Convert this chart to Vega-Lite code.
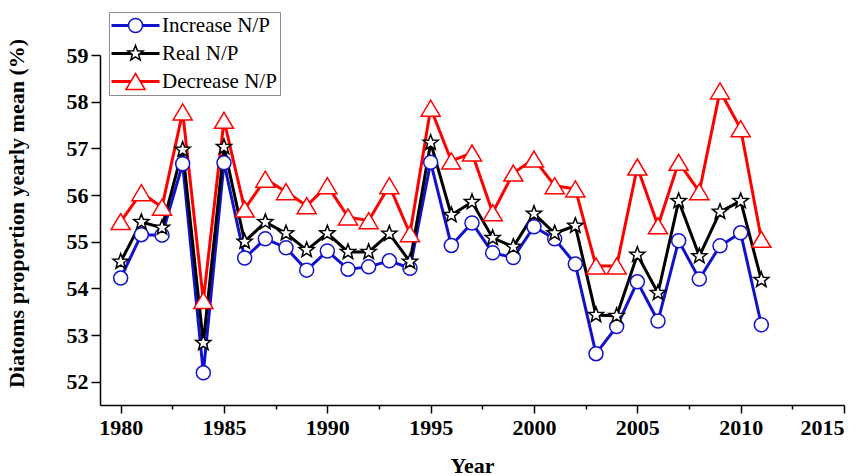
{
  "$schema": "https://vega.github.io/schema/vega-lite/v6.json",
  "width": 744,
  "height": 350,
  "autosize": {"type": "none"},
  "padding": {"left": 100, "top": 55, "right": 24, "bottom": 71},
  "background": "white",
  "config": {
    "view": {"stroke": null},
    "font": "Liberation Serif",
    "axis": {
      "domainColor": "black",
      "domainWidth": 1.5,
      "tickColor": "black",
      "tickWidth": 1.5,
      "grid": false,
      "labelFont": "Liberation Serif",
      "labelFontWeight": "bold",
      "labelFontSize": 22,
      "labelColor": "black",
      "labelOverlap": false,
      "titleFont": "Liberation Serif",
      "titleFontWeight": "bold",
      "titleFontSize": 22,
      "titleColor": "black"
    },
    "legend": {
      "padding": 3,
      "rowPadding": 6,
      "labelFont": "Liberation Serif",
      "labelFontSize": 21,
      "labelFontWeight": "normal",
      "symbolSize": 256,
      "symbolOffset": 13,
      "labelOffset": 16
    }
  },
  "data": {
    "values": [
      {"year": 1980, "series": "Increase N/P", "value": 54.22},
      {"year": 1981, "series": "Increase N/P", "value": 55.15},
      {"year": 1982, "series": "Increase N/P", "value": 55.14},
      {"year": 1983, "series": "Increase N/P", "value": 56.67},
      {"year": 1984, "series": "Increase N/P", "value": 52.19},
      {"year": 1985, "series": "Increase N/P", "value": 56.69},
      {"year": 1986, "series": "Increase N/P", "value": 54.65},
      {"year": 1987, "series": "Increase N/P", "value": 55.06},
      {"year": 1988, "series": "Increase N/P", "value": 54.87},
      {"year": 1989, "series": "Increase N/P", "value": 54.39},
      {"year": 1990, "series": "Increase N/P", "value": 54.8},
      {"year": 1991, "series": "Increase N/P", "value": 54.41},
      {"year": 1992, "series": "Increase N/P", "value": 54.46},
      {"year": 1993, "series": "Increase N/P", "value": 54.59},
      {"year": 1994, "series": "Increase N/P", "value": 54.43},
      {"year": 1995, "series": "Increase N/P", "value": 56.7},
      {"year": 1996, "series": "Increase N/P", "value": 54.92},
      {"year": 1997, "series": "Increase N/P", "value": 55.4},
      {"year": 1998, "series": "Increase N/P", "value": 54.76},
      {"year": 1999, "series": "Increase N/P", "value": 54.66},
      {"year": 2000, "series": "Increase N/P", "value": 55.32},
      {"year": 2001, "series": "Increase N/P", "value": 55.06},
      {"year": 2002, "series": "Increase N/P", "value": 54.52},
      {"year": 2003, "series": "Increase N/P", "value": 52.6},
      {"year": 2004, "series": "Increase N/P", "value": 53.18},
      {"year": 2005, "series": "Increase N/P", "value": 54.14},
      {"year": 2006, "series": "Increase N/P", "value": 53.3},
      {"year": 2007, "series": "Increase N/P", "value": 55.02},
      {"year": 2008, "series": "Increase N/P", "value": 54.2},
      {"year": 2009, "series": "Increase N/P", "value": 54.91},
      {"year": 2010, "series": "Increase N/P", "value": 55.19},
      {"year": 2011, "series": "Increase N/P", "value": 53.22},
      {"year": 1980, "series": "Real N/P", "value": 54.57},
      {"year": 1981, "series": "Real N/P", "value": 55.42},
      {"year": 1982, "series": "Real N/P", "value": 55.3},
      {"year": 1983, "series": "Real N/P", "value": 56.97},
      {"year": 1984, "series": "Real N/P", "value": 52.83},
      {"year": 1985, "series": "Real N/P", "value": 57.03},
      {"year": 1986, "series": "Real N/P", "value": 55.0},
      {"year": 1987, "series": "Real N/P", "value": 55.42},
      {"year": 1988, "series": "Real N/P", "value": 55.18},
      {"year": 1989, "series": "Real N/P", "value": 54.82},
      {"year": 1990, "series": "Real N/P", "value": 55.18},
      {"year": 1991, "series": "Real N/P", "value": 54.78},
      {"year": 1992, "series": "Real N/P", "value": 54.78},
      {"year": 1993, "series": "Real N/P", "value": 55.17},
      {"year": 1994, "series": "Real N/P", "value": 54.57},
      {"year": 1995, "series": "Real N/P", "value": 57.12},
      {"year": 1996, "series": "Real N/P", "value": 55.57},
      {"year": 1997, "series": "Real N/P", "value": 55.85},
      {"year": 1998, "series": "Real N/P", "value": 55.08},
      {"year": 1999, "series": "Real N/P", "value": 54.89},
      {"year": 2000, "series": "Real N/P", "value": 55.6},
      {"year": 2001, "series": "Real N/P", "value": 55.18},
      {"year": 2002, "series": "Real N/P", "value": 55.34},
      {"year": 2003, "series": "Real N/P", "value": 53.43},
      {"year": 2004, "series": "Real N/P", "value": 53.41},
      {"year": 2005, "series": "Real N/P", "value": 54.72},
      {"year": 2006, "series": "Real N/P", "value": 53.9},
      {"year": 2007, "series": "Real N/P", "value": 55.87},
      {"year": 2008, "series": "Real N/P", "value": 54.69},
      {"year": 2009, "series": "Real N/P", "value": 55.64},
      {"year": 2010, "series": "Real N/P", "value": 55.87},
      {"year": 2011, "series": "Real N/P", "value": 54.18},
      {"year": 1980, "series": "Decrease N/P", "value": 55.43},
      {"year": 1981, "series": "Decrease N/P", "value": 56.05},
      {"year": 1982, "series": "Decrease N/P", "value": 55.74},
      {"year": 1983, "series": "Decrease N/P", "value": 57.78},
      {"year": 1984, "series": "Decrease N/P", "value": 53.74},
      {"year": 1985, "series": "Decrease N/P", "value": 57.6},
      {"year": 1986, "series": "Decrease N/P", "value": 55.7},
      {"year": 1987, "series": "Decrease N/P", "value": 56.34},
      {"year": 1988, "series": "Decrease N/P", "value": 56.07},
      {"year": 1989, "series": "Decrease N/P", "value": 55.77},
      {"year": 1990, "series": "Decrease N/P", "value": 56.2},
      {"year": 1991, "series": "Decrease N/P", "value": 55.53},
      {"year": 1992, "series": "Decrease N/P", "value": 55.45},
      {"year": 1993, "series": "Decrease N/P", "value": 56.2},
      {"year": 1994, "series": "Decrease N/P", "value": 55.17},
      {"year": 1995, "series": "Decrease N/P", "value": 57.86},
      {"year": 1996, "series": "Decrease N/P", "value": 56.73},
      {"year": 1997, "series": "Decrease N/P", "value": 56.9},
      {"year": 1998, "series": "Decrease N/P", "value": 55.62},
      {"year": 1999, "series": "Decrease N/P", "value": 56.47},
      {"year": 2000, "series": "Decrease N/P", "value": 56.77},
      {"year": 2001, "series": "Decrease N/P", "value": 56.2},
      {"year": 2002, "series": "Decrease N/P", "value": 56.13},
      {"year": 2003, "series": "Decrease N/P", "value": 54.48},
      {"year": 2004, "series": "Decrease N/P", "value": 54.48},
      {"year": 2005, "series": "Decrease N/P", "value": 56.6},
      {"year": 2006, "series": "Decrease N/P", "value": 55.34},
      {"year": 2007, "series": "Decrease N/P", "value": 56.7},
      {"year": 2008, "series": "Decrease N/P", "value": 56.07},
      {"year": 2009, "series": "Decrease N/P", "value": 58.23},
      {"year": 2010, "series": "Decrease N/P", "value": 57.42},
      {"year": 2011, "series": "Decrease N/P", "value": 55.05}
    ]
  },
  "encoding": {
    "x": {
      "field": "year",
      "type": "quantitative",
      "scale": {"domain": [1979, 2015], "nice": false, "zero": false},
      "axis": {
        "title": "Year",
        "values": [1980, 1982.5, 1985, 1987.5, 1990, 1992.5, 1995, 1997.5, 2000, 2002.5, 2005, 2007.5, 2010, 2012.5, 2015],
        "format": "d",
        "labelExpr": "datum.value % 5 === 0 ? datum.label : ''",
        "tickSize": {"condition": {"test": "datum.value % 5 !== 0", "value": 4}, "value": 8},
        "labelPadding": 4,
        "titleY": 50,
        "titleBaseline": "top"
      }
    },
    "y": {
      "field": "value",
      "type": "quantitative",
      "scale": {"domain": [51.5, 59], "nice": false, "zero": false},
      "axis": {
        "title": "Diatoms proportion yearly mean (%)",
        "values": [52, 52.5, 53, 53.5, 54, 54.5, 55, 55.5, 56, 56.5, 57, 57.5, 58, 58.5, 59],
        "format": "d",
        "labelExpr": "datum.value % 1 === 0 ? datum.label : ''",
        "tickSize": {"condition": {"test": "datum.value % 1 !== 0", "value": 5}, "value": 9},
        "labelPadding": 3,
        "titleAngle": -90,
        "titleX": -72,
        "titleY": 158,
        "titleAlign": "center",
        "titleBaseline": "bottom"
      }
    }
  },
  "layer": [
    {
      "mark": {"type": "line", "strokeWidth": 3},
      "encoding": {
        "color": {
          "field": "series",
          "type": "nominal",
          "scale": {"domain": ["Increase N/P", "Real N/P", "Decrease N/P"], "range": ["#1212cc", "#000000", "#ff0000"]},
          "legend": {
            "orient": "none",
            "legendX": 9,
            "legendY": -43,
            "title": null,
            "strokeColor": "#8c8c8c",
            "fillColor": "white",
            "labelColor": "transparent",
            "symbolType": "M-3,0H3",
            "symbolStrokeWidth": 3
          }
        }
      }
    },
    {
      "mark": {"type": "point", "filled": false, "fill": "white", "fillOpacity": 1, "strokeWidth": 1.5, "size": 256},
      "encoding": {
        "stroke": {
          "field": "series",
          "type": "nominal",
          "sort": null,
          "scale": {"range": ["#1212cc", "#000000", "#ff0000"]},
          "legend": {
            "orient": "none",
            "legendX": 9,
            "legendY": -43,
            "title": null,
            "strokeColor": "transparent",
            "fillColor": "transparent",
            "labelColor": "black",
            "symbolStrokeWidth": 1.5,
            "symbolFillColor": "white"
          }
        },
        "shape": {
          "field": "series",
          "type": "nominal",
          "sort": null,
          "scale": {
            "range": [
              "M0.875,0A0.875,0.875 0 1,1 -0.875,0A0.875,0.875 0 1,1 0.875,0Z",
              "M0,-1L0.247,-0.34L0.951,-0.309L0.399,0.13L0.588,0.809L0,0.42L-0.588,0.809L-0.399,0.13L-0.951,-0.309L-0.247,-0.34Z",
              "M0,-1L1.19,1L-1.19,1Z"
            ]
          },
          "legend": {
            "orient": "none",
            "legendX": 9,
            "legendY": -43,
            "title": null,
            "strokeColor": "transparent",
            "fillColor": "transparent",
            "labelColor": "black",
            "symbolStrokeWidth": 1.5,
            "symbolFillColor": "white"
          }
        }
      }
    }
  ]
}
